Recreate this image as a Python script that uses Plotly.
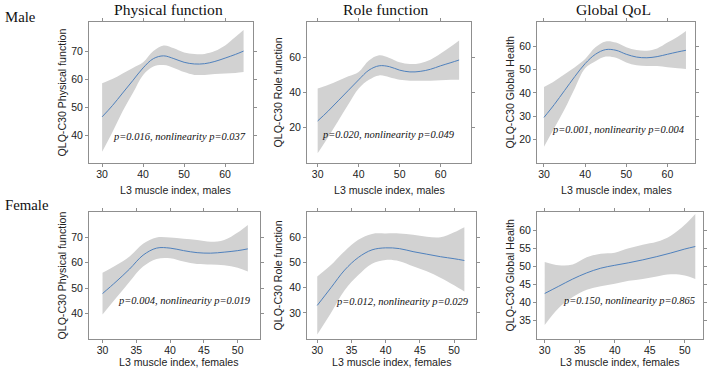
import plotly.graph_objects as go

# ---------------- data ----------------
male_x = [30, 32.5, 35, 37.5, 40, 42.5, 45, 47.5, 50, 52.5, 55, 57.5, 60, 62.5, 64.5]
female_x = [30, 32, 34, 36, 38, 40, 42, 44, 46, 48, 50, 51.5]

male_pf_fit = [46.5, 50.5, 55, 59.5, 64, 67.3, 68.3, 67.3, 66, 65.4, 65.5, 66.3, 67.5, 68.8, 70]
male_pf_hi = [58.5, 60, 62, 64, 66, 70, 72, 71, 69.5, 69, 69, 70, 72, 75, 77.5]
male_pf_lo = [34, 41, 48.5, 55, 61.5, 64.5, 65, 64, 62.5, 61.5, 61.5, 61.8, 62, 62.2, 62.5]

male_rf_fit = [23.5, 29, 35, 41, 47, 52.5, 55, 54.5, 52.5, 51.5, 51.8, 53, 55, 56.8, 58.3]
male_rf_hi = [42, 44, 46.5, 49, 51.5, 58, 61, 59.5, 57, 56, 56.5, 58.5, 62, 66, 69.5]
male_rf_lo = [5, 14, 23.5, 33, 42, 47, 49.5, 48.5, 47, 46.5, 46.5, 46.5, 46.8, 47, 47]

male_gh_fit = [29.5, 35, 41, 47, 52.5, 56.5, 58.5, 58.2, 56.5, 55.3, 55, 55.5, 56.5, 57.5, 58.2]
male_gh_hi = [42.5, 45, 48, 51, 54.5, 59.5, 62, 61.5, 59.5, 58.3, 58, 59, 61.5, 64, 66.5]
male_gh_lo = [17, 25, 33, 42, 50.5, 53.5, 55.5, 55, 53, 51.8, 51.5, 51.5, 51, 50.5, 50.2]

female_pf_fit = [47.8, 52.5, 57.5, 63, 65.8, 65.8, 64.8, 64, 63.8, 64.2, 64.8, 65.5]
female_pf_hi = [56, 59, 62.5, 67.5, 70, 70, 69.5, 69, 68.3, 69, 72, 75]
female_pf_lo = [39.5, 46, 52.5, 58.5, 61.5, 61.8, 60.5, 59.5, 59.3, 59, 58, 56.5]

female_rf_fit = [33, 40, 47, 52, 55, 55.8, 55.5, 54.3, 53.3, 52.3, 51.5, 50.8]
female_rf_hi = [44.5, 49, 54.5, 59, 61.3, 61.5, 61.5, 61, 60.2, 60, 62, 64]
female_rf_lo = [21.5, 30, 39, 45, 49.5, 51, 50.5, 48.5, 46.5, 44, 41, 38.5]

female_gh_fit = [42.5, 44.5, 46.5, 48.2, 49.5, 50.3, 51, 51.8, 52.7, 53.7, 54.8, 55.5]
female_gh_hi = [51.2, 50.3, 50.5, 52.5, 53.5, 53.8, 55, 56, 56.8, 58.5, 61.5, 64.5]
female_gh_lo = [33.8, 38.5, 41.5, 43.5, 44.5, 45.2, 46, 46.5, 47.2, 47.8, 47.5, 46.5]

col_titles = ["Physical function", "Role function", "Global QoL"]
row_titles = ["Male", "Female"]
y_titles = ["QLQ-C30 Physical function", "QLQ-C30 Role function", "QLQ-C30 Global Health"]
x_titles = ["L3 muscle index, males", "L3 muscle index, females"]
p_texts = [
    "p=0.016, nonlinearity p=0.037",
    "p=0.020, nonlinearity p=0.049",
    "p=0.001, nonlinearity p=0.004",
    "p=0.004, nonlinearity p=0.019",
    "p=0.012, nonlinearity p=0.029",
    "p=0.150, nonlinearity p=0.865",
]
male_xticks = [30, 40, 50, 60]
female_xticks = [30, 35, 40, 45, 50]
yticks = [
    [40, 50, 60, 70],
    [20, 40, 60],
    [20, 30, 40, 50, 60],
    [40, 50, 60, 70],
    [30, 40, 50, 60],
    [35, 40, 45, 50, 55, 60],
]

# ---------------- layout ----------------
W, H = 709, 372
SERIF = "Liberation Serif, Times New Roman, serif"
SANS = "Liberation Sans, Arial, sans-serif"
AXCOL = "#8f8f8f"
BAND = "#d2d2d2"
LINE = "#4f81bd"

panels = [
    dict(x=male_x, fit=male_pf_fit, lo=male_pf_lo, hi=male_pf_hi, px=(89, 253), py=(22, 163),
         xr=(26.8, 66.8), yr=(30, 80.4), xt=male_xticks),
    dict(x=male_x, fit=male_rf_fit, lo=male_rf_lo, hi=male_rf_hi, px=(307, 471), py=(22, 163),
         xr=(27.4, 67.4), yr=(-0.5, 80), xt=male_xticks),
    dict(x=male_x, fit=male_gh_fit, lo=male_gh_lo, hi=male_gh_hi, px=(537, 695), py=(22, 163),
         xr=(28.3, 66.7), yr=(10, 70.3), xt=male_xticks),
    dict(x=female_x, fit=female_pf_fit, lo=female_pf_lo, hi=female_pf_hi, px=(89, 260), py=(212, 339),
         xr=(28.0, 53.3), yr=(29.8, 80.1), xt=female_xticks),
    dict(x=female_x, fit=female_rf_fit, lo=female_rf_lo, hi=female_rf_hi, px=(307, 476), py=(212, 339),
         xr=(28.5, 53.2), yr=(19.7, 70), xt=female_xticks),
    dict(x=female_x, fit=female_gh_fit, lo=female_gh_lo, hi=female_gh_hi, px=(537, 703), py=(212, 339),
         xr=(28.9, 52.6), yr=(29.9, 65.05), xt=female_xticks),
]
ytitle_x = [61, 277, 509]
ptext_pos = [(248, 136), (457, 134), (687, 129), (253, 300), (471, 301), (697, 300)]

fig = go.Figure()
layout = dict(
    width=W, height=H, margin=dict(l=0, r=0, t=0, b=0),
    paper_bgcolor="white", plot_bgcolor="white", showlegend=False,
    font=dict(family=SANS, size=10.5, color="#222"),
)
annotations = []

for i, p in enumerate(panels):
    n = i + 1
    xa = "x" if n == 1 else f"x{n}"
    ya = "y" if n == 1 else f"y{n}"
    fig.add_trace(go.Scatter(x=p["x"], y=p["lo"], mode="lines", line=dict(width=0, shape="spline"),
                             xaxis=xa, yaxis=ya, hoverinfo="skip"))
    fig.add_trace(go.Scatter(x=p["x"], y=p["hi"], mode="lines", line=dict(width=0, shape="spline"),
                             fill="tonexty", fillcolor=BAND, xaxis=xa, yaxis=ya, hoverinfo="skip"))
    fig.add_trace(go.Scatter(x=p["x"], y=p["fit"], mode="lines",
                             line=dict(width=1, color=LINE, shape="spline"), xaxis=xa, yaxis=ya))
    common = dict(showline=True, linecolor=AXCOL, linewidth=1, mirror="ticks", ticks="outside",
                  ticklen=3, tickcolor=AXCOL, showgrid=False, zeroline=False,
                  tickfont=dict(family=SANS, size=10.5, color="#222"))
    layout["xaxis" if n == 1 else f"xaxis{n}"] = dict(
        domain=[p["px"][0] / W, p["px"][1] / W], range=list(p["xr"]), tickvals=p["xt"],
        anchor=ya, ticklabelstandoff=-2, **common)
    layout["yaxis" if n == 1 else f"yaxis{n}"] = dict(
        domain=[1 - p["py"][1] / H, 1 - p["py"][0] / H], range=list(p["yr"]), tickvals=yticks[i],
        anchor=xa, **common)
    row, col = divmod(i, 3)
    # y-axis title
    annotations.append(dict(text=y_titles[col], x=ytitle_x[col] / W, y=1 - (sum(p["py"]) / 2) / H,
                            xref="paper", yref="paper", textangle=-90, showarrow=False,
                            font=dict(family=SANS, size=10.6, color="#222"),
                            xanchor="center", yanchor="middle"))
    # x-axis title
    xcen = (p["px"][0] + p["px"][1]) / 2 + (4 if col == 0 else 0)
    ypix = 190 if row == 0 else 362
    annotations.append(dict(text=x_titles[row], x=xcen / W, y=1 - ypix / H, xref="paper", yref="paper",
                            showarrow=False, font=dict(family=SANS, size=10.6, color="#222"),
                            xanchor="center", yanchor="middle"))
    # p-value text
    tx, ty = ptext_pos[i]
    annotations.append(dict(text=f"<i>{p_texts[i]}</i>", x=tx / W, y=1 - ty / H, xref="paper",
                            yref="paper", showarrow=False, xanchor="right", yanchor="middle",
                            font=dict(family=SERIF, size=10.5, color="#111")))

# column titles
for col, t in enumerate(col_titles):
    p = panels[col]
    annotations.append(dict(text=t, x=((p["px"][0] + p["px"][1]) / 2 - 3) / W, y=1 - 10 / H,
                            xref="paper", yref="paper", showarrow=False, xanchor="center",
                            yanchor="middle", font=dict(family=SERIF, size=15.6, color="#111")))
# row titles
for r, t in enumerate(row_titles):
    ypix = 17 if r == 0 else 205
    annotations.append(dict(text=t, x=3 / W, y=1 - ypix / H, xref="paper", yref="paper",
                            showarrow=False, xanchor="left", yanchor="middle",
                            font=dict(family=SERIF, size=14.8, color="#111")))

layout["annotations"] = annotations
fig.update_layout(**layout)
fig.write_html(
    "out.html",
    config={"displayModeBar": False},
    post_script="document.body.style.margin='0';document.body.style.overflow='hidden';",
)
